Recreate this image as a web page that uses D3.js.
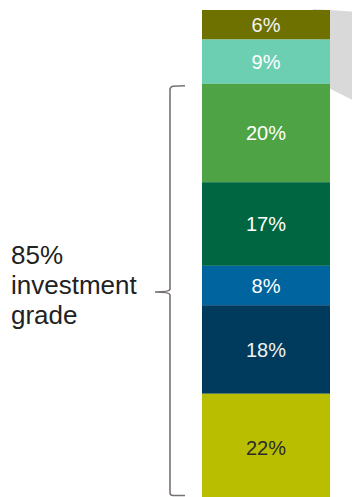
<!DOCTYPE html>
<html>
<head>
<meta charset="utf-8">
<script src="https://cdn.jsdelivr.net/npm/d3@7"></script>
<style>
  html, body { margin: 0; padding: 0; background: #fff; }
  svg { display: block; font-family: "Liberation Sans", Arial, sans-serif; }
</style>
</head>
<body>
<div id="chart"></div>
<script>
// Portfolio composition, top segment first
const segments = ["s1", "s2", "s3", "s4", "s5", "s6", "s7"];
const shares = [6, 9, 20, 17, 8, 18, 22];
const shareLabels = ["6%", "9%", "20%", "17%", "8%", "18%", "22%"];
// Bracket covers the investment-grade segments (third through last)
const bracketFrom = 2;
const bracketTo = 6;
const bracketLabel = ["85%", "investment", "grade"];

const palette = ["#6e7000", "#6dcfb2", "#4ea444", "#006642", "#00659f", "#003a5d", "#b9bf00"];
const labelInk = ["#f4f4f4", "#ffffff", "#ffffff", "#ffffff", "#ffffff", "#f2f2f2", "#2b2b2b"];

const W = 352, H = 497;
const svg = d3.select("#chart").append("svg").attr("width", W).attr("height", H);

const total = d3.sum(shares);
const ends = d3.cumsum(shares);
const starts = ends.map((e, i) => e - shares[i]);

const y = d3.scaleLinear().domain([0, total]).range([10, 502]);
const x = d3.scaleBand().domain(["bar"]).range([202, 330]).padding(0);
const color = d3.scaleOrdinal().domain(segments).range(palette);

// Grey connector panel behind the bar, leading off to the right from the top two segments
const topEdge = y(0);
const panelBottom = y(ends[1]);
const panel = d3.line();
svg.append("path")
  .attr("d", panel([
    [x("bar") + x.bandwidth() - 17, topEdge - 1],
    [W, topEdge + 1.5],
    [W, panelBottom + 16],
    [x("bar") + x.bandwidth(), panelBottom + 5]
  ]) + "Z")
  .attr("fill", "#d9d9d9");

// Stacked segments
const g = svg.append("g");
g.selectAll("rect")
  .data(segments)
  .join("rect")
  .attr("x", x("bar"))
  .attr("width", x.bandwidth())
  .attr("y", (d, i) => y(starts[i]))
  .attr("height", (d, i) => y(ends[i]) - y(starts[i]))
  .attr("fill", d => color(d));

g.selectAll("text")
  .data(segments)
  .join("text")
  .attr("x", x("bar") + x.bandwidth() / 2)
  .attr("y", (d, i) => (y(starts[i]) + y(ends[i])) / 2)
  .attr("dy", "0.36em")
  .attr("text-anchor", "middle")
  .attr("font-size", 20)
  .attr("fill", (d, i) => labelInk[i])
  .text((d, i) => shareLabels[i]);

// Curly bracket spanning the investment-grade segments
const bTop = y(starts[bracketFrom]) + 3;
const bBot = Math.min(y(ends[bracketTo]) - 6, H - 1.5);
const bx = 170, hookX = 185, tipX = 155;
const bMid = 292;
const bracket = d3.path();
bracket.moveTo(hookX, bTop - 1);
bracket.lineTo(bx + 3, bTop - 0.5);
bracket.quadraticCurveTo(bx, bTop, bx, bTop + 3);
bracket.lineTo(bx, bMid - 3);
bracket.quadraticCurveTo(bx, bMid, tipX, bMid);
bracket.quadraticCurveTo(bx, bMid, bx, bMid + 3);
bracket.lineTo(bx, bBot - 3);
bracket.quadraticCurveTo(bx, bBot, bx + 3, bBot);
bracket.lineTo(hookX, bBot);
svg.append("path")
  .attr("d", bracket.toString())
  .attr("fill", "none")
  .attr("stroke", "#7a7272")
  .attr("stroke-width", 1.6);

// Bracket caption
svg.append("g")
  .selectAll("text")
  .data(bracketLabel)
  .join("text")
  .attr("x", 11)
  .attr("y", (d, i) => 264 + i * 30)
  .attr("font-size", 26)
  .attr("fill", "#222")
  .text(d => d);
</script>
</body>
</html>
